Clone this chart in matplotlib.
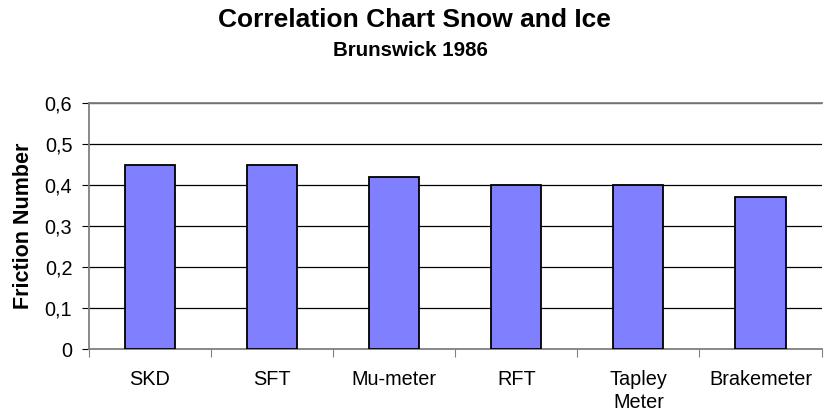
import matplotlib
matplotlib.use("Agg")
import matplotlib.pyplot as plt
import numpy as np

plt.rcParams["font.family"] = ["Liberation Sans", "DejaVu Sans"]

categories = ["SKD", "SFT", "Mu-meter", "RFT", "Tapley\nMeter", "Brakemeter"]
friction = [0.45, 0.45, 0.42, 0.40, 0.40, 0.37]
yticks = [0, 0.1, 0.2, 0.3, 0.4, 0.5, 0.6]
ytick_labels = ["0", "0,1", "0,2", "0,3", "0,4", "0,5", "0,6"]

fig = plt.figure(figsize=(8.24, 4.19), dpi=100)
ax = fig.add_axes([0.108, 0.167, 0.889, 0.587])

x = np.arange(len(categories))
ax.bar(x, friction, width=0.41, color="#8080FF", edgecolor="black", linewidth=1.3, zorder=3)

ax.set_xlim(-0.5, len(categories) - 0.5)
ax.set_ylim(0, 0.6)
ax.set_yticks(yticks)
ax.set_yticklabels(ytick_labels, fontsize=14.3)
ax.yaxis.grid(True, color="black", lw=0.9, zorder=0)

# category labels centred, ticks between categories
ax.set_xticks(np.arange(-0.5, len(categories), 1.0))
ax.set_xticklabels([])
ax.set_xticks(x, minor=True)
ax.set_xticklabels(categories, minor=True, fontsize=14.3, linespacing=1.3)
ax.tick_params(axis="x", which="minor", length=0, pad=15)
ax.tick_params(axis="x", which="major", length=6, color="#808080", direction="out")
ax.tick_params(axis="y", length=5, color="#000000", direction="out", pad=7)

for s in ["left", "bottom", "top"]:
    ax.spines[s].set_color("#808080")
    ax.spines[s].set_linewidth(1.3)
ax.spines["right"].set_visible(False)

ax.set_ylabel("Friction Number", fontsize=15.5, fontweight="bold", labelpad=8)

fig.text(0.503, 1 - 20 / 419, "Correlation Chart Snow and Ice", ha="center", va="center",
         fontsize=19, fontweight="bold")
fig.text(0.498, 1 - 50 / 419, "Brunswick 1986", ha="center", va="center",
         fontsize=14.8, fontweight="bold")

fig.savefig("out.png", dpi=100)
